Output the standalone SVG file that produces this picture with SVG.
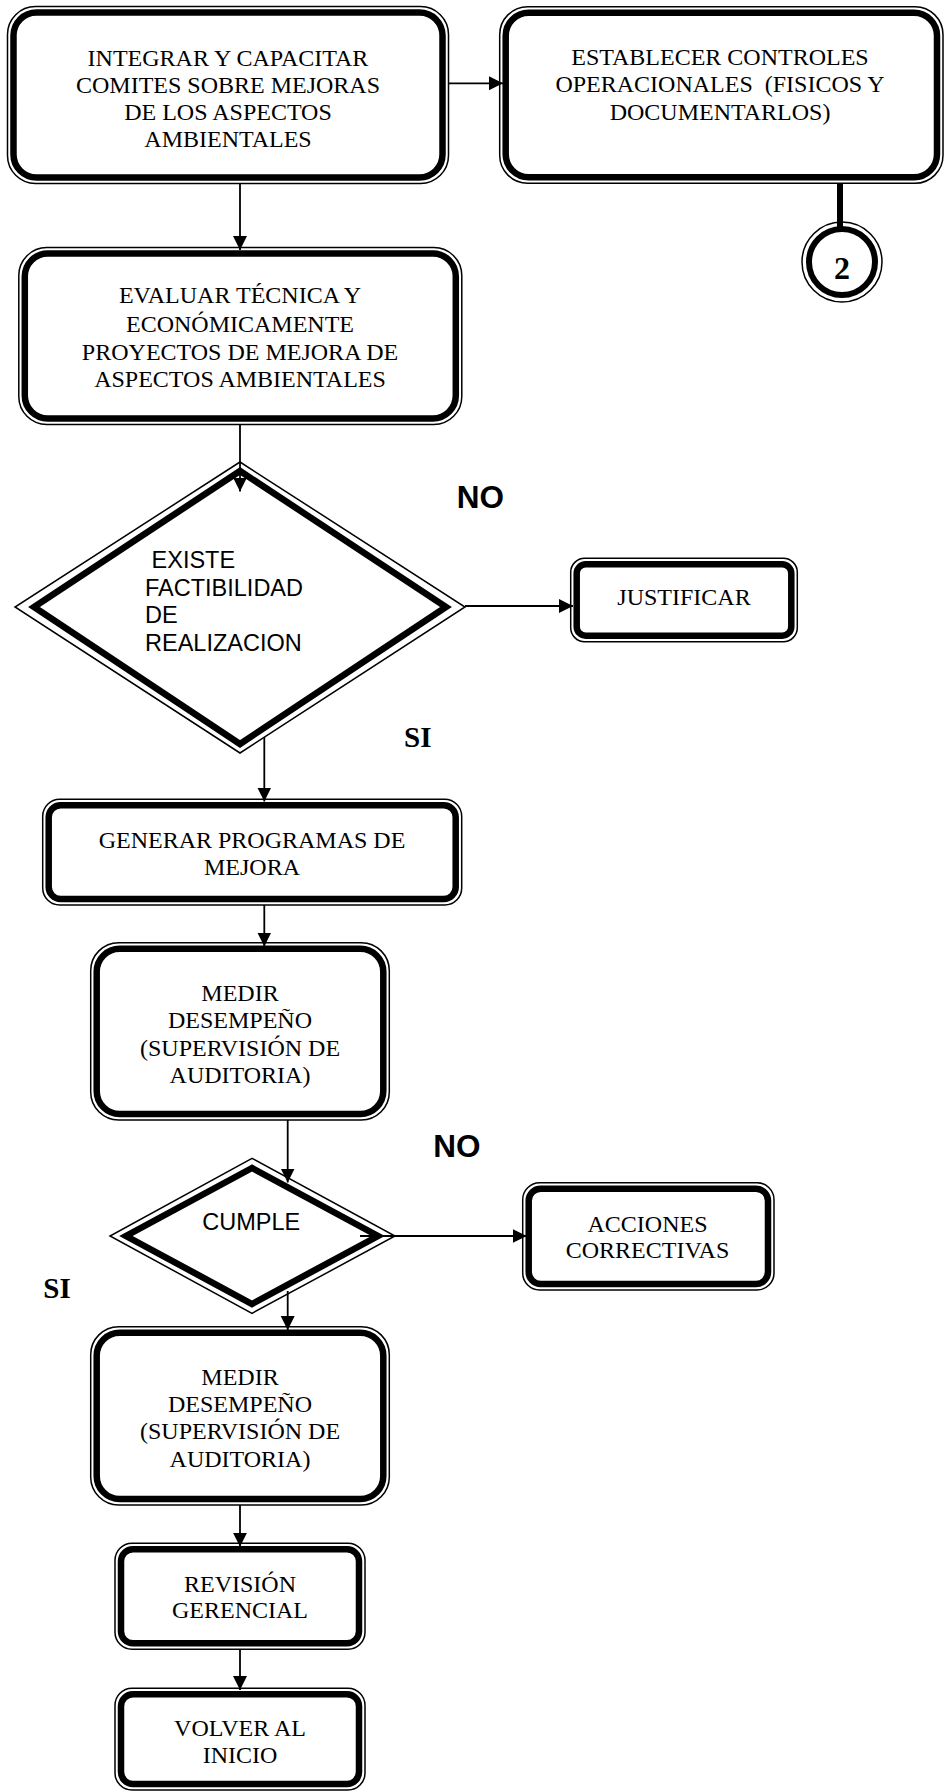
<svg xmlns="http://www.w3.org/2000/svg" width="946" height="1792" viewBox="0 0 946 1792">
<style>
.thin{fill:none;stroke:#000;stroke-width:1.5}
.thick{fill:none;stroke:#000;stroke-width:6.5;stroke-linejoin:miter}
.t{font-family:"Liberation Serif","Times New Roman",serif;font-size:24px;text-anchor:middle;fill:#000}
.a{font-family:"Liberation Sans",Arial,sans-serif;font-size:23.5px;fill:#000}
.no{font-family:"Liberation Sans",Arial,sans-serif;font-size:31.5px;font-weight:bold;fill:#000}
.si{font-family:"Liberation Serif","Times New Roman",serif;font-size:29px;font-weight:bold;fill:#000}
.c{fill:none;stroke:#000;stroke-width:1.8;marker-end:url(#arr)}
</style>
<defs>
<marker id="arr" markerUnits="userSpaceOnUse" markerWidth="16" markerHeight="16" refX="14" refY="7" orient="auto">
<path d="M0,0 L14,7 L0,14 z" fill="#000"/>
</marker>
</defs>
<rect width="946" height="1792" fill="#fff"/>

<g id="n-integrar">
<rect class="thin" x="7.5" y="6.5" width="441" height="177" rx="28"/>
<rect class="thick" x="13.5" y="12.5" width="429" height="165" rx="23"/>
<text class="t" x="228"><tspan x="228" y="65.5">INTEGRAR Y CAPACITAR</tspan><tspan x="228" y="92.5">COMITES SOBRE MEJORAS</tspan><tspan x="228" y="119.5">DE LOS ASPECTOS</tspan><tspan x="228" y="146.5">AMBIENTALES</tspan></text>
</g>

<g id="n-establecer">
<rect class="thin" x="499.7" y="6.7" width="443.3" height="176.6" rx="28"/>
<rect class="thick" x="505.7" y="12.7" width="431.3" height="164.6" rx="23"/>
<text class="t" xml:space="preserve"><tspan x="720" y="64.5">ESTABLECER CONTROLES</tspan><tspan x="720" y="91.7">OPERACIONALES  (FISICOS Y</tspan><tspan x="720" y="119.5">DOCUMENTARLOS)</tspan></text>
</g>

<g id="n-conector2">
<circle class="thin" cx="842" cy="262" r="40"/>
<circle cx="842" cy="262" r="33" fill="none" stroke="#000" stroke-width="6"/>
<text x="842" y="279" text-anchor="middle" style="font-family:'Liberation Serif','Times New Roman',serif;font-size:32px;font-weight:bold">2</text>
</g>

<g id="n-evaluar">
<rect class="thin" x="18.8" y="247.5" width="443" height="177" rx="28"/>
<rect class="thick" x="24.8" y="253.5" width="431" height="165" rx="23"/>
<text class="t"><tspan x="240" y="303.3">EVALUAR TÉCNICA Y</tspan><tspan x="240" y="331.7">ECONÓMICAMENTE</tspan><tspan x="240" y="360">PROYECTOS DE MEJORA DE</tspan><tspan x="240" y="386.7">ASPECTOS AMBIENTALES</tspan></text>
</g>

<g id="n-factibilidad">
<polygon class="thin" points="240,462 15,607 240,753 465,607"/>
<polygon class="thick" points="240,471 34,607 240,744 446,607"/>
<text class="a" xml:space="preserve"><tspan x="145" y="567.7"> EXISTE</tspan><tspan x="145" y="595.7">FACTIBILIDAD</tspan><tspan x="145" y="623.3">DE</tspan><tspan x="145" y="650.7">REALIZACION</tspan></text>
</g>

<g id="n-justificar">
<rect class="thin" x="570.7" y="558.3" width="226.6" height="83.4" rx="14"/>
<rect class="thick" x="576.7" y="564.3" width="214.6" height="71.4" rx="9"/>
<text class="t" x="684" y="605">JUSTIFICAR</text>
</g>

<g id="n-generar">
<rect class="thin" x="42.7" y="799.3" width="419" height="105.7" rx="17"/>
<rect class="thick" x="48.7" y="805.3" width="407" height="93.7" rx="12"/>
<text class="t"><tspan x="252" y="847.7">GENERAR PROGRAMAS DE</tspan><tspan x="252" y="875">MEJORA</tspan></text>
</g>

<g id="n-medir1">
<rect class="thin" x="90.7" y="942.7" width="298.6" height="177.3" rx="28"/>
<rect class="thick" x="96.7" y="948.7" width="286.6" height="165.3" rx="23"/>
<text class="t"><tspan x="240" y="1000.7">MEDIR</tspan><tspan x="240" y="1028.3">DESEMPEÑO</tspan><tspan x="240" y="1056">(SUPERVISIÓN DE</tspan><tspan x="240" y="1082.7">AUDITORIA)</tspan></text>
</g>

<g id="n-cumple">
<polygon class="thin" points="252,1158.3 110,1236 252,1313.3 395,1236"/>
<polygon class="thick" points="252,1168 126,1236 252,1304 378,1236"/>
<text class="a" x="202.3" y="1230">CUMPLE</text>
</g>

<g id="n-acciones">
<rect class="thin" x="522.7" y="1182.7" width="251.3" height="107.3" rx="17"/>
<rect class="thick" x="528.7" y="1188.7" width="239.3" height="95.3" rx="12"/>
<text class="t"><tspan x="647.5" y="1231.7">ACCIONES</tspan><tspan x="647.5" y="1258.3">CORRECTIVAS</tspan></text>
</g>

<g id="n-medir2">
<rect class="thin" x="90.7" y="1326.7" width="298.6" height="178.3" rx="28"/>
<rect class="thick" x="96.7" y="1332.7" width="286.6" height="166.3" rx="23"/>
<text class="t"><tspan x="240" y="1385">MEDIR</tspan><tspan x="240" y="1411.7">DESEMPEÑO</tspan><tspan x="240" y="1439.3">(SUPERVISIÓN DE</tspan><tspan x="240" y="1466.7">AUDITORIA)</tspan></text>
</g>

<g id="n-revision">
<rect class="thin" x="115" y="1543.3" width="250" height="106" rx="17"/>
<rect class="thick" x="121" y="1549.3" width="238" height="94" rx="12"/>
<text class="t"><tspan x="240" y="1591.7">REVISIÓN</tspan><tspan x="240" y="1618.3">GERENCIAL</tspan></text>
</g>

<g id="n-volver">
<rect class="thin" x="115" y="1688.3" width="250" height="101.7" rx="17"/>
<rect class="thick" x="121" y="1694.3" width="238" height="89.7" rx="12"/>
<text class="t"><tspan x="240" y="1736">VOLVER AL</tspan><tspan x="240" y="1763.3">INICIO</tspan></text>
</g>

<g id="connectors">
<line class="c" x1="449" y1="83.3" x2="503" y2="83.3"/>
<line class="c" x1="240" y1="184" x2="240" y2="250"/>
<line x1="840" y1="183" x2="840" y2="228" stroke="#000" stroke-width="6"/>
<line class="c" x1="240" y1="424" x2="240" y2="491.5"/>
<line class="c" x1="465" y1="606" x2="573" y2="606"/>
<line class="c" x1="264.3" y1="737" x2="264.3" y2="801.5"/>
<line class="c" x1="264.3" y1="905" x2="264.3" y2="946.5"/>
<line class="c" x1="287.7" y1="1120" x2="287.7" y2="1182.5"/>
<line class="c" x1="360" y1="1236" x2="526.7" y2="1236"/>
<line class="c" x1="287.7" y1="1291" x2="287.7" y2="1330"/>
<line class="c" x1="240" y1="1505" x2="240" y2="1546.7"/>
<line class="c" x1="240" y1="1649.3" x2="240" y2="1690"/>
</g>

<g id="labels">
<text class="no" x="456.7" y="508">NO</text>
<text class="si" x="404" y="746.7">SI</text>
<text class="no" x="433.3" y="1156.7">NO</text>
<text class="si" x="43.3" y="1298.3">SI</text>
</g>
</svg>
